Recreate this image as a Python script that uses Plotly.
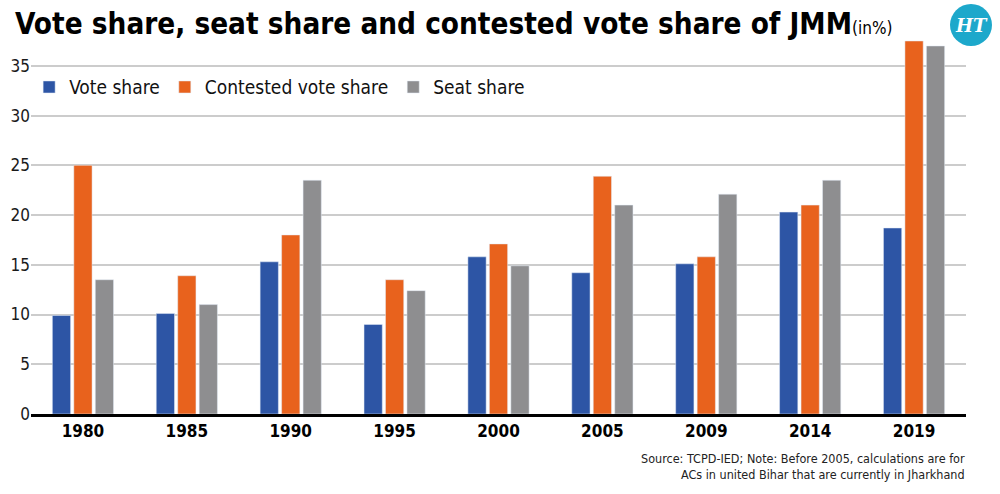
import plotly.graph_objects as go

years = ["1980", "1985", "1990", "1995", "2000", "2005", "2009", "2014", "2019"]
vote_share = [9.9, 10.1, 15.3, 9.0, 15.8, 14.2, 15.1, 20.3, 18.7]
contested_vote_share = [25.0, 13.9, 18.0, 13.5, 17.1, 23.9, 15.8, 21.0, 37.5]
seat_share = [13.5, 11.0, 23.5, 12.4, 14.9, 21.0, 22.1, 23.5, 37.0]
y_ticks = [0, 5, 10, 15, 20, 25, 30, 35]

COND = "DejaVu Sans Condensed, Liberation Sans Narrow, sans-serif"

fig = go.Figure()
fig.add_trace(go.Bar(name="Vote share", x=years, y=vote_share, marker_color="#2D55A5"))
fig.add_trace(go.Bar(name="Contested vote share", x=years, y=contested_vote_share, marker_color="#E8621D"))
fig.add_trace(go.Bar(name="Seat share", x=years, y=seat_share, marker_color="#8E8E90"))

fig.update_layout(
    width=1000, height=494,
    margin=dict(l=31, r=34, t=40, b=80),
    paper_bgcolor="white", plot_bgcolor="white",
    barmode="group", bargap=0.38, bargroupgap=0.15,
    font=dict(family=COND, color="#1a1a1a"),
    title=dict(
        text="<b>Vote share, seat share and contested vote share of JMM</b><span style='font-size:17px'>(in%)</span>",
        font=dict(family=COND, size=29.4, color="#000000"),
        x=0.015, xanchor="left", xref="container",
        y=0.972, yanchor="top", yref="container",
    ),
    legend=dict(
        orientation="h", x=-0.002, xanchor="left", y=0.874, yanchor="middle",
        font=dict(family=COND, size=19, color="#111111"),
        bgcolor="rgba(0,0,0,0)", traceorder="normal",
    ),
    xaxis=dict(
        type="category", showgrid=False, ticks="",
        showline=True, linecolor="#000000", linewidth=3,
        tickfont=dict(family=COND, size=17, color="#000000", weight="bold"),
    ),
    yaxis=dict(
        range=[0, 37.6], tickvals=y_ticks, showgrid=True,
        gridcolor="#cccccc", gridwidth=2, zeroline=False, showline=False,
        ticks="", tickfont=dict(family=COND, size=17, color="#1a1a1a"),
    ),
)

# HT logo
fig.add_shape(type="circle", xref="paper", yref="paper",
              x0=(950 - 31) / 935, x1=(992 - 31) / 935,
              y0=(414 - 46) / 374, y1=(414 - 4) / 374,
              fillcolor="#1DA8CB", line=dict(width=0))
fig.add_annotation(text="<b><i>HT</i></b>", xref="paper", yref="paper",
                   x=(971 - 31) / 935, y=(414 - 25) / 374, showarrow=False,
                   font=dict(family="DejaVu Serif", size=18, color="white"),
                   xanchor="center", yanchor="middle")

fig.add_annotation(
    text="Source: TCPD-IED; Note: Before 2005, calculations are for<br>ACs in united Bihar that are currently in Jharkhand",
    xref="paper", yref="paper", x=(967 - 31) / 935, y=(414 - 467) / 374,
    xanchor="right", yanchor="middle", align="right", showarrow=False,
    font=dict(family=COND, size=12.5, color="#222222"),
)

fig.write_html("out.html")
